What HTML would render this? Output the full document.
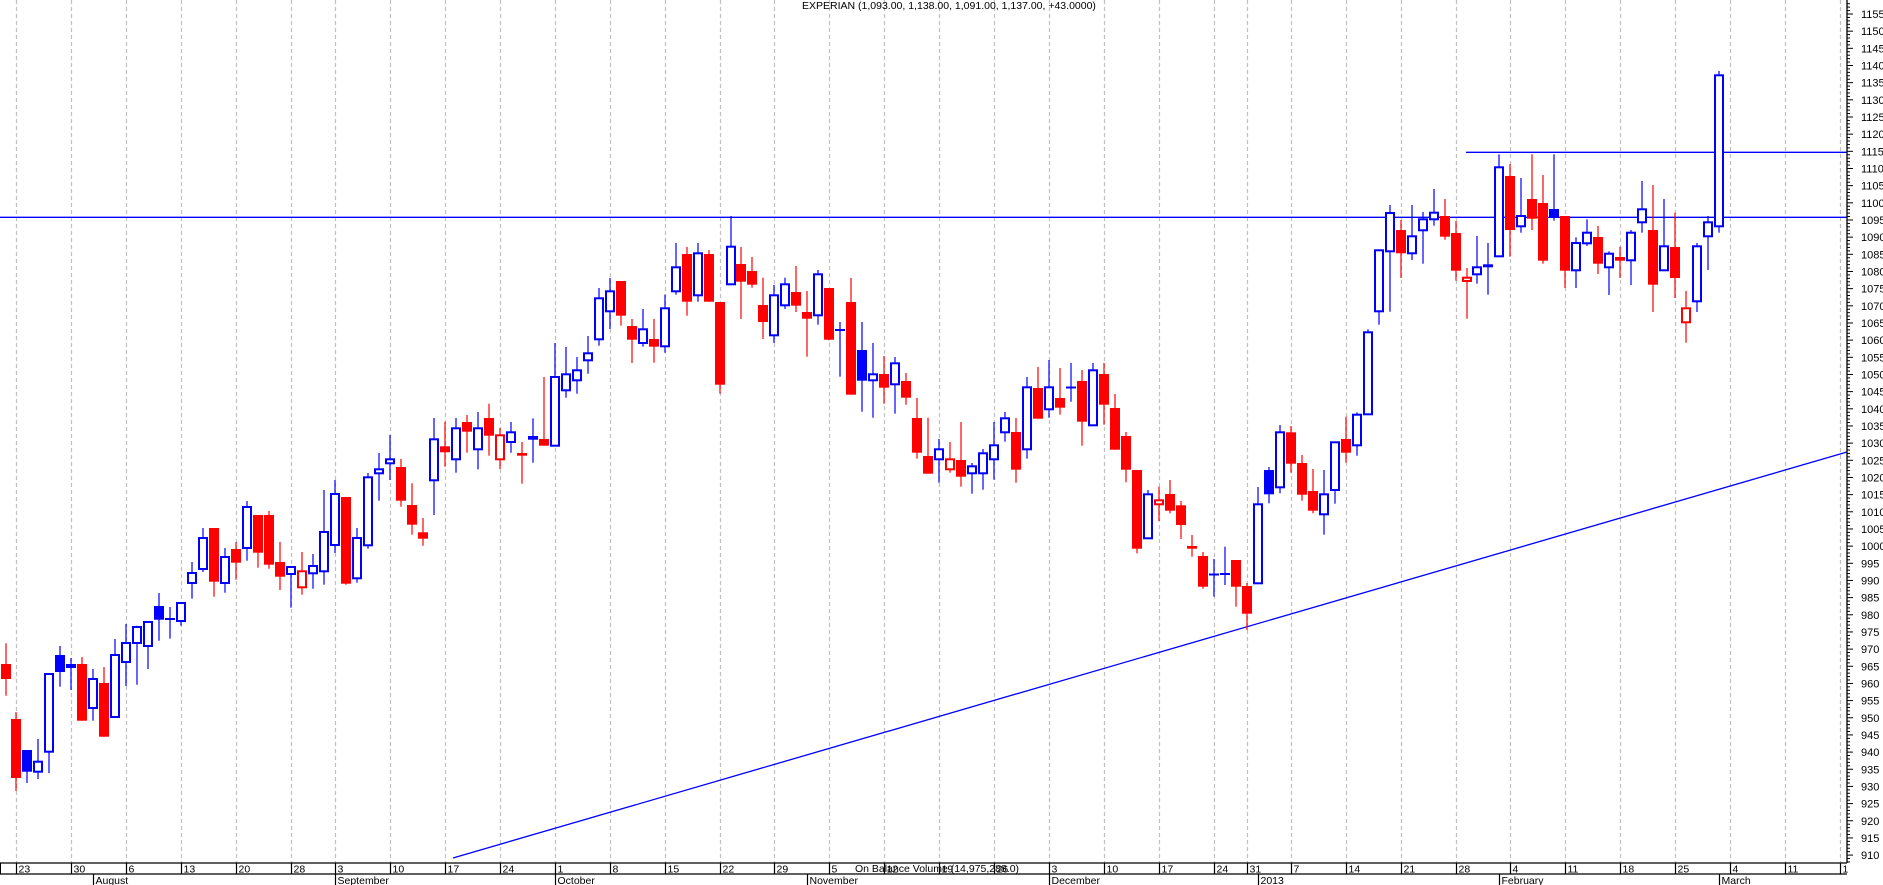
<!DOCTYPE html>
<html><head><meta charset="utf-8"><style>
html,body{margin:0;padding:0;background:#fff;}
svg{display:block;font-family:"Liberation Sans",sans-serif;}
</style></head><body>
<svg id="c" xmlns="http://www.w3.org/2000/svg" width="1883" height="885" viewBox="0 0 1883 885">
<rect width="1883" height="885" fill="#fff"/>
<g id="grid"></g>
<line x1="0" y1="217.3" x2="1847" y2="217.3" stroke="#0000ff" stroke-width="1.3"/>
<line x1="1466" y1="152.3" x2="1847" y2="152.3" stroke="#0000ff" stroke-width="1.3"/>
<line x1="453" y1="858" x2="1847" y2="452" stroke="#0000ff" stroke-width="1.3"/>
<g id="candles"></g>
<text x="802" y="9" font-size="10.5" fill="#000">EXPERIAN (1,093.00, 1,138.00, 1,091.00, 1,137.00, +43.0000)</text>
<line x1="1847" y1="0" x2="1847" y2="863" stroke="#000" stroke-width="1.3"/>
<g id="yaxis"></g>
<rect x="0" y="863" width="1847" height="22" fill="#fff"/>
<line x1="0" y1="863" x2="1847" y2="863" stroke="#000" stroke-width="1.3"/>
<line x1="0" y1="874" x2="1847" y2="874" stroke="#000" stroke-width="1.3"/>
<g id="xaxis"></g>
<text x="855" y="872" font-size="10.5" fill="#000">On Balance Volume (14,975,288.0)</text>
</svg>
<script>
var NS="http://www.w3.org/2000/svg";
function el(p,t,a){var e=document.createElementNS(NS,t);for(var k in a)e.setAttribute(k,a[k]);p.appendChild(e);return e;}
function X(d){return 5.5+d*10.985;}
var D=[
[643.3,695.7,664,679,'r'],[712,791,719,778,'r'],[750,783,750,771.7,'b'],[739,779,761.7,771.7,'h'],[674,773,674,751.7,'h'],
[646,686.7,655,672,'b'],[658,690,664,668,'b'],[657,720.7,664,720.7,'r'],[669,720.7,679,708,'h'],[667,736.7,683,736.7,'r'],
[639,717,655,717,'h'],[624,686,643,662,'h'],[625.7,684.7,627,643,'h'],[622,669,622,646,'h'],[593,640.7,606,619.7,'b'],
[607,638.7,618,619.7,'b'],[603,625.7,603,621,'h'],[562,598.7,573,583,'h'],[528,572,538,569,'h'],[528,596.7,528,581.7,'r'],
[548,592.7,557,583,'h'],[542,579.7,549,562.7,'r'],[501,560.7,507,548,'h'],[515,567.7,515,552.7,'r'],[511,568.7,515,564.7,'r'],
[542,590,562,576.7,'r'],[567,607.7,567,574,'h'],[552,594.7,571.3,587.3,'o'],[554,588.7,566,573.3,'h'],[490,584.7,532,571.3,'h'],
[480,553,494,545,'h'],[497,584.7,497,583.7,'r'],[528,582.7,538,578.3,'h'],[473,548.7,477.3,545.3,'h'],[453,500.7,469.3,473.3,'h'],
[435,480,459.3,463.3,'h'],[459,506.7,467,500.7,'r'],[483.3,534.7,505,524.7,'r'],[518,545.7,532.3,538.7,'r'],[418,515,439.3,480.3,'h'],
[421.7,466.7,446.3,452.3,'r'],[418,472.7,428.3,459.3,'h'],[415,452.7,422,431.7,'r'],[412,469.3,428.3,449.3,'h'],[403.7,455.7,418,435.7,'r'],
[428,469,435.3,459.3,'o'],[422,452.7,432.3,442,'h'],[442,483.7,453,455.7,'r'],[418.3,462.7,436,439.7,'b'],[377,445.7,439,445.7,'r'],
[343,445.7,377,445.7,'h'],[347,397.7,374.3,390.3,'h'],[357,393.7,370.3,380.3,'h'],[336,373.7,353.3,360.3,'h'],[288,345.7,298.3,339.3,'h'],
[278,329,291.3,311.3,'h'],[281,325.7,281,315.7,'r'],[319,363,326,339.7,'r'],[309,346.7,329.3,343,'h'],[319,362.7,339,346.7,'r'],
[294.7,352.7,308.3,346.3,'h'],[243,294.7,267.3,291.3,'h'],[247,315.7,254,301.7,'r'],[243,301.7,253.3,295.3,'h'],[250,301.7,254,301.7,'r'],
[302,393.7,302,384.7,'r'],[216,284.3,246.7,284.3,'h'],[247,319,264,281.7,'r'],[257,287.7,271,284.7,'r'],[277.7,339,305,322,'r'],
[285,343,295.3,335.3,'h'],[277.7,309,284.3,305.3,'h'],[266,312,292,305.7,'r'],[291,356.7,312,318.7,'r'],[270,324.7,274.3,315.3,'h'],
[288,340.3,288,339.7,'r'],[322,376.7,329,330,'b'],[278,394.7,302,394.7,'r'],[322,411.7,350,380.7,'b'],[343,417.7,374.3,380.3,'h'],
[356,403.7,374,387.7,'r'],[357,413.7,363.3,384.3,'h'],[373,404.7,381,397.7,'r'],[398,458.7,418,452.7,'r'],[417.7,473.7,456,473.7,'r'],
[439,482.7,449.3,459.3,'h'],[442,472.7,459.3,469.3,'o'],[422,486.7,460,476.7,'r'],[463,493.7,466.3,473.3,'h'],[449,489.7,453.3,473.3,'h'],
[422,479.7,445.3,459.3,'h'],[412,441.7,418.3,432.3,'h'],[418,482.7,432,469.7,'r'],[377,458.7,387.3,449.3,'h'],[367,418.7,388,418.7,'r'],
[360,417.7,387.3,409.3,'h'],[368,414.7,398,407.7,'r'],[363,401.7,386.5,388,'b'],[370,445.7,381,421.7,'r'],[363,425.3,370.3,425.3,'h'],
[363,424.7,374,404.7,'r'],[394,449.7,408,449.7,'r'],[432,482.3,436,469.7,'r'],[470,553.3,470,548.7,'r'],[490,538.3,494.3,538.3,'h'],
[486.7,521,500.3,504.3,'o'],[480,513.3,494,510.7,'r'],[501,539,505.3,525,'r'],[535,556.7,546,548.7,'r'],[552,588.7,556,586.7,'r'],
[559,596.7,573.5,575,'b'],[546.7,585,573,574.5,'b'],[560,606.7,560,586.7,'r'],[583,630,586,613.7,'r'],[487,583.3,504.3,583.3,'h'],
[467,503.3,470,494.3,'b'],[425,493.3,432.3,487.3,'h'],[426,472.7,432.3,463.7,'r'],[455,500.7,463,494.7,'r'],[469,513.3,491,510.7,'r'],
[470,534.7,494.3,514.3,'h'],[442.3,503.7,442.3,490,'h'],[416.7,462.7,439,452.7,'r'],[412.3,455.7,414.7,445.3,'h'],[329.3,414.3,332.3,414.3,'h'],
[249.3,324.7,250.3,311.3,'h'],[205,311.7,213,251.3,'h'],[220,278,230,253.3,'r'],[205,260,236.3,253.3,'h'],[212,263.7,219.3,230.3,'h'],
[189,225.7,212.7,219.3,'h'],[199,239.7,216,236.7,'r'],[221,280.7,233,270.7,'r'],[268,318.7,277.7,281,'o'],[236,283.7,267.3,274.3,'h'],
[243,294.7,264.3,267.3,'b'],[154.3,256.3,167.3,256.3,'h'],[164,256.7,176,230,'r'],[178,232.7,216,226.3,'h'],[154.3,230,199,218.7,'r'],
[175,263.7,203,260.7,'r'],[154.3,220.7,209,217.3,'b'],[216,288,216,270.7,'r'],[237.3,288,243,270.3,'h'],[219.3,246,232.7,243.3,'h'],
[226,274,237,263.7,'r'],[251.3,295,253.7,267.3,'h'],[246.7,278,257,260.7,'r'],[230,285,232.7,260.3,'h'],[181,232.7,209.3,222.3,'h'],
[185,312,230,284.7,'r'],[199,270.3,246.3,270.3,'h'],[212.7,298,247,278,'r'],[291,342.7,308.3,322.3,'o'],[243,312,246.3,301.3,'h'],
[216,270,222.3,236.3,'h'],[71,232.7,75.3,226.3,'h']
];
var g=document.getElementById('grid');
var dates=[[1,'23'],[6,'30'],[11,'6'],[16,'13'],[21,'20'],[26,'28'],[30,'3'],[35,'10'],[40,'17'],[45,'24'],[50,'1'],[55,'8'],[60,'15'],[65,'22'],[70,'29'],[75,'5'],[80,'12'],[85,'19'],[90,'26'],[95,'3'],[100,'10'],[105,'17'],[110,'24'],[113,'31'],[117,'7'],[122,'14'],[127,'21'],[132,'28'],[137,'4'],[142,'11'],[147,'18'],[152,'25'],[157,'4'],[162,'11'],[167,'1']];
dates.forEach(function(a){var x=Math.round(X(a[0]))+0.5;el(g,'line',{x1:x,y1:0,x2:x,y2:863,stroke:'#c0c0c0','stroke-width':1.2,'stroke-dasharray':'4,3'});});
var c=document.getElementById('candles');
D.forEach(function(a,i){var cx=Math.round(X(i));var hi=a[0],lo=a[1],bt=a[2],bb=a[3],t=a[4];
var col=(t=='r'||t=='o')?'#ff0000':'#0000ff';
el(c,'rect',{x:cx-0.6,y:hi,width:1.2,height:Math.max(lo-hi,1),fill:col});
var h=Math.max(bb-bt,2);
if(t=='r'||t=='b'){el(c,'rect',{x:cx-5,y:bt,width:10,height:h,fill:col});}
else{el(c,'rect',{x:cx-4,y:bt,width:8,height:Math.max(h,2),fill:'#fff',stroke:col,'stroke-width':2});}
});
var ya=document.getElementById('yaxis');
for(var p=908;p<=1158;p++){var y=14+(1155-p)*3.433;if(y<0||y>862)continue;var maj=(p%5==0);
el(ya,'line',{x1:1847,y1:y,x2:1847+(maj?6:3),y2:y,stroke:'#000','stroke-width':1});
if(maj){var t=el(ya,'text',{x:1861,y:y+4,'font-size':11,fill:'#000'});t.textContent=p;}}
var xa=document.getElementById('xaxis');
el(xa,'line',{x1:0.5,y1:863,x2:0.5,y2:874,stroke:'#000','stroke-width':1});
dates.forEach(function(a){var x=Math.round(X(a[0]))+0.5;el(xa,'line',{x1:x,y1:863,x2:x,y2:874,stroke:'#000','stroke-width':1.2});
var t=el(xa,'text',{x:x+2,y:872.5,'font-size':10.5,fill:'#000'});t.textContent=a[1];});
[[8,'August'],[30,'September'],[50,'October'],[73,'November'],[95,'December'],[114,'2013'],[136,'February'],[156,'March']].forEach(function(a){
var x=Math.round(X(a[0]))+0.5;el(xa,'line',{x1:x,y1:874,x2:x,y2:885,stroke:'#000','stroke-width':1.2});
var t=el(xa,'text',{x:x+2,y:884,'font-size':10.5,fill:'#000'});t.textContent=a[1];});
</script>
</body></html>
